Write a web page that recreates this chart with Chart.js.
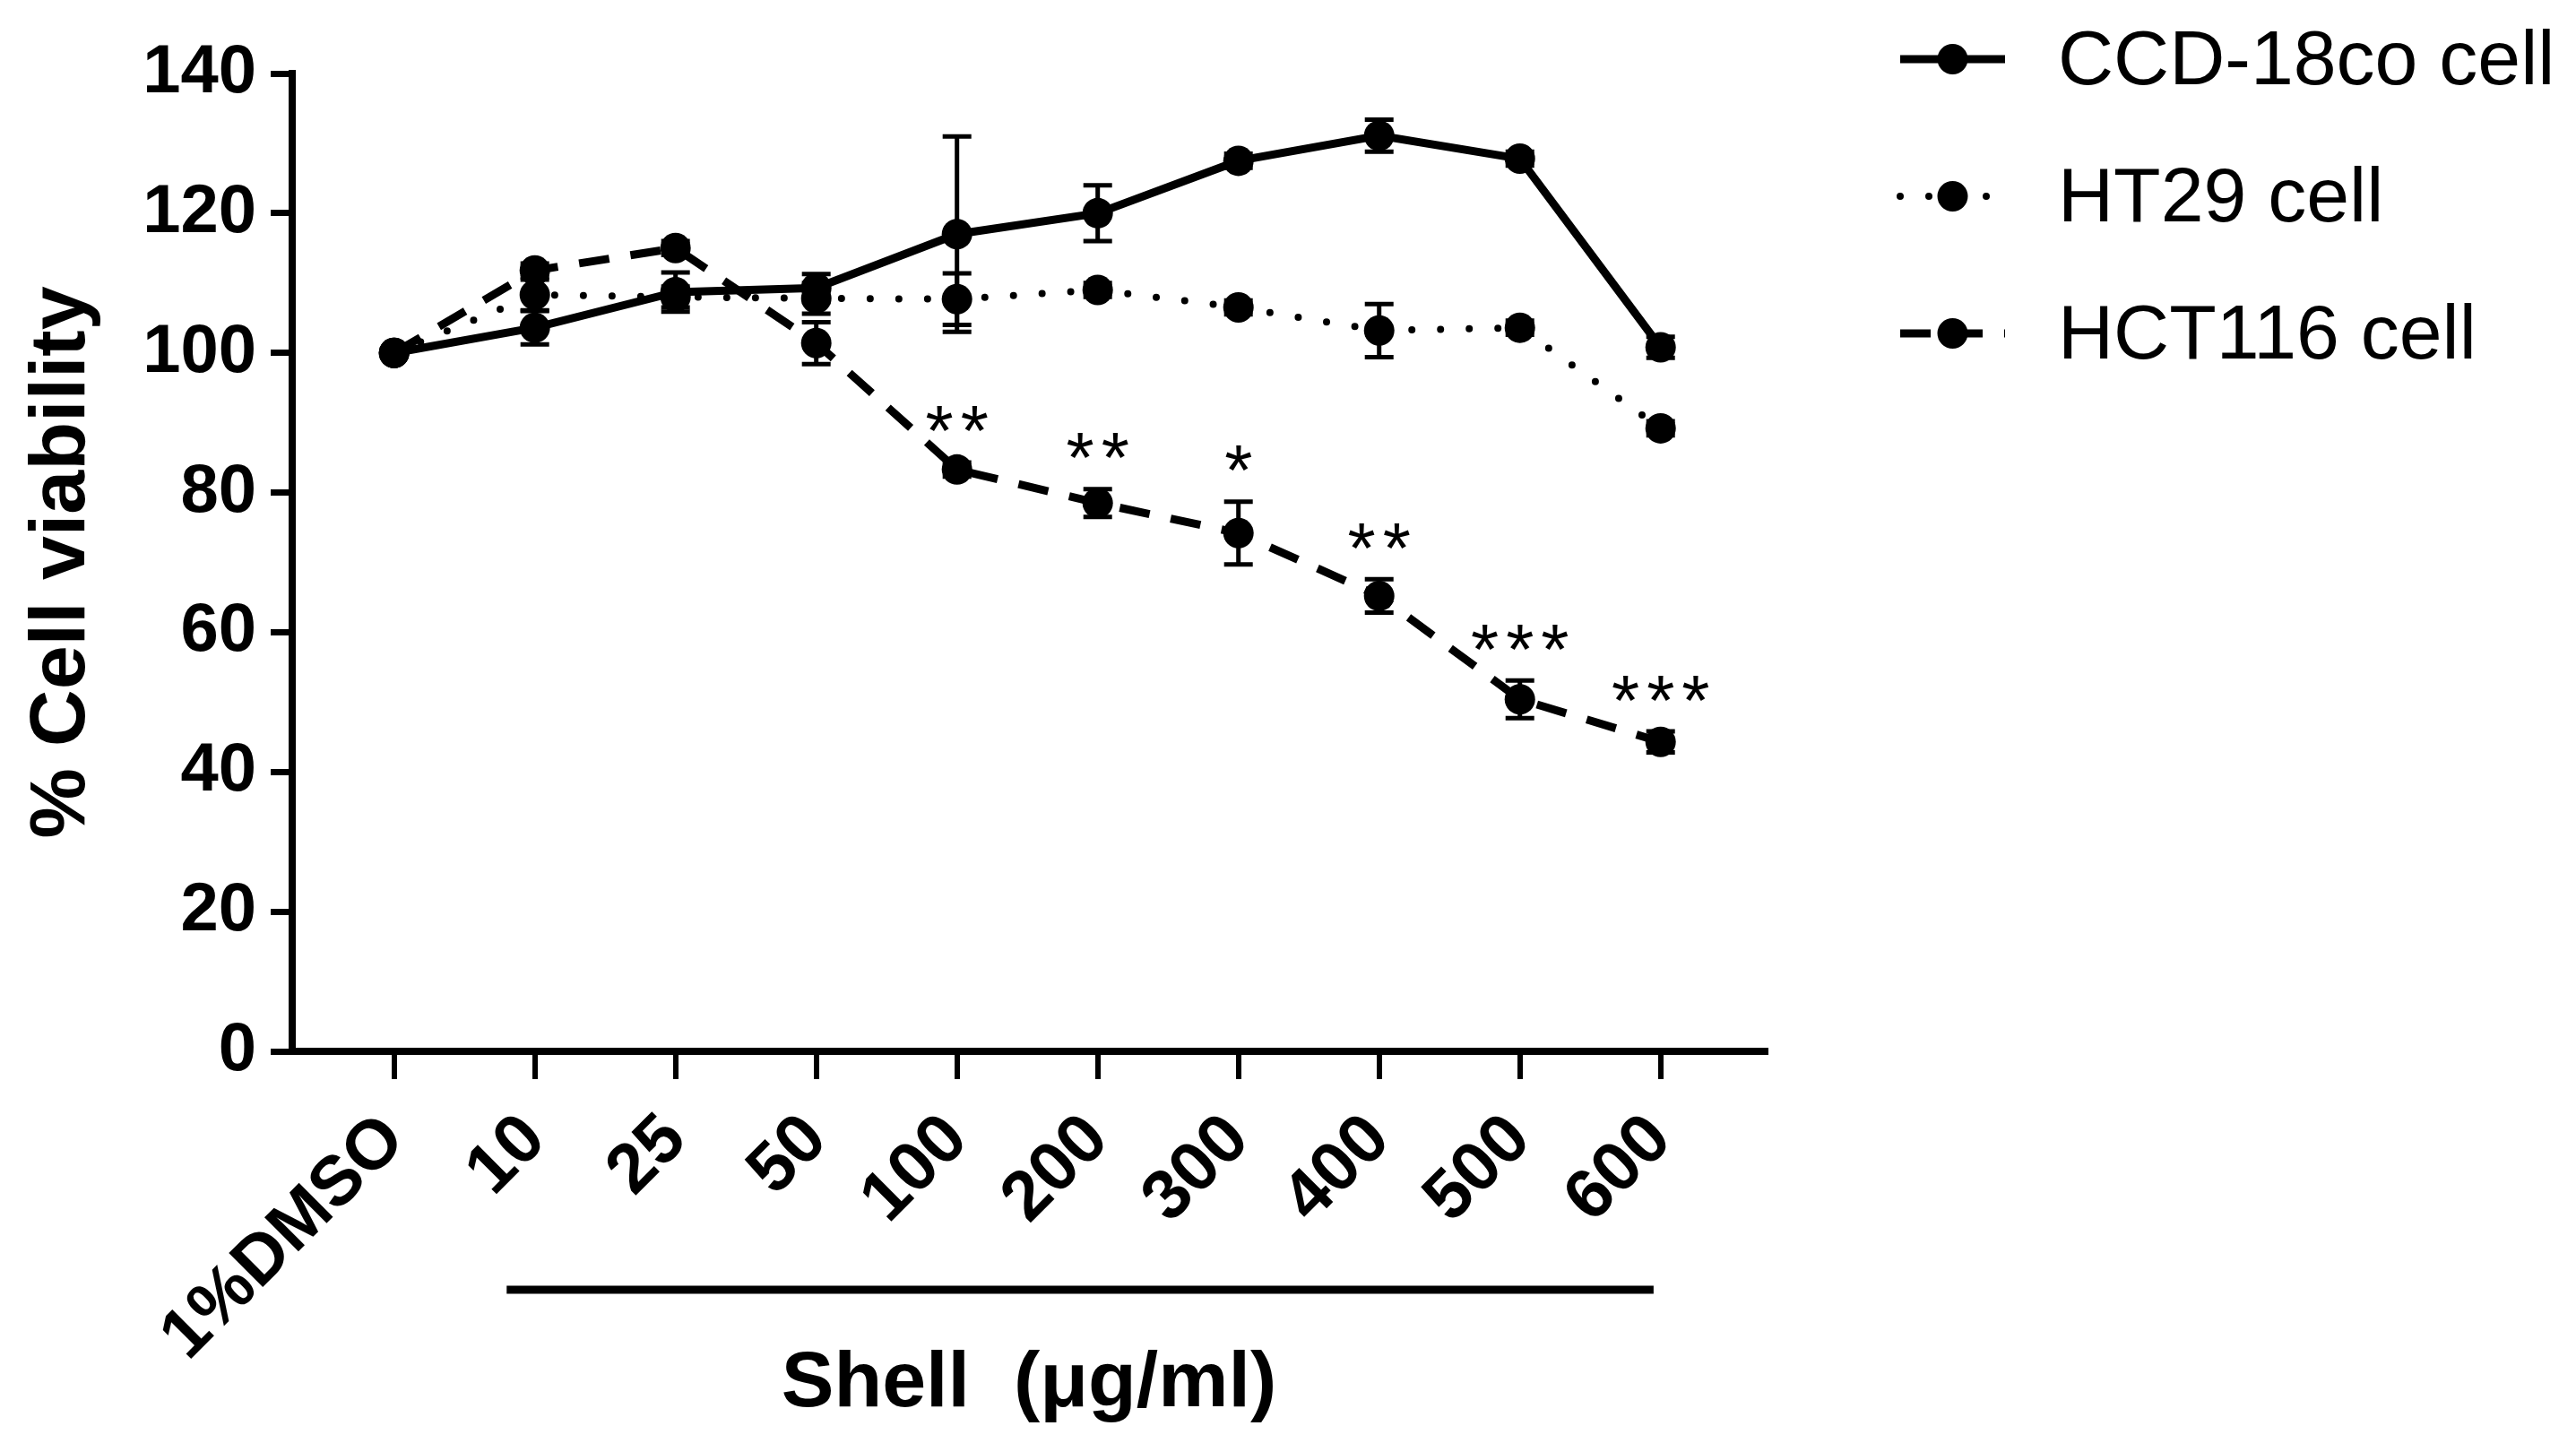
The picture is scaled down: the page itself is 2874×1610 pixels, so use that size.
<!DOCTYPE html>
<html>
<head>
<meta charset="utf-8">
<title>Cell viability</title>
<script src="https://cdn.jsdelivr.net/npm/chart.js@4.4.1/dist/chart.umd.min.js"></script>
<style>
  html, body { margin: 0; padding: 0; background: #fff; }
  canvas { display: block; }
</style>
</head>
<body>
<canvas id="viabilityChart" width="2874" height="1610"></canvas>
<script>
// doses on the x axis
const doseLabels = ['1%DMSO', '10', '25', '50', '100', '200', '300', '400', '500', '600'];

// mean % viability and error (SD) per cell line
const ccdValues  = [100, 103.6, 108.7, 109.3, 117, 120, 127.5, 131.1, 127.8, 100.8];
const ccdErrors  = [0, 2.4, 2.8, 2, 14, 4, 1, 2.3, 1, 1.5];
const ht29Values = [100, 108.3, 108, 107.8, 107.7, 109, 106.5, 103.2, 103.6, 89.2];
const ht29Errors = [0, 2.2, 1.5, 2.2, 3.7, 1, 1, 3.8, 1, 1];
const hctValues  = [100, 111.8, 115, 101.4, 83.3, 78.5, 74.2, 65.2, 50.4, 44.3];
const hctErrors  = [0, 1, 1, 3, 1, 2, 4.5, 2.4, 2.7, 1.5];

// significance marks for HCT116
const hctStars = ['', '', '', '', '**', '**', '*', '**', '***', '***'];

// y axis ticks
const yTicks = [0, 20, 40, 60, 80, 100, 120, 140];

// the "Shell" bracket covers these doses
const bracketFrom = 1;
const bracketTo = 9;

const FONT = '"Liberation Sans", Arial, Helvetica, sans-serif';

function toPoints(values) {
    return values.map((v, i) => ({ x: i, y: v }));
}

// error bars with caps
const errorBarPlugin = {
    id: 'errorBars',
    afterDatasetsDraw(chart) {
        const ctx = chart.ctx;
        const yScale = chart.scales.y;
        chart.data.datasets.forEach((ds, i) => {
            const meta = chart.getDatasetMeta(i);
            ctx.save();
            ctx.strokeStyle = '#000';
            ctx.lineWidth = 5;
            meta.data.forEach((pt, j) => {
                const err = ds.errors[j];
                if (!err) return;
                const v = ds.data[j].y;
                const top = yScale.getPixelForValue(v + err);
                const bot = yScale.getPixelForValue(v - err);
                ctx.beginPath();
                ctx.moveTo(pt.x, top);
                ctx.lineTo(pt.x, bot);
                ctx.moveTo(pt.x - 16, top);
                ctx.lineTo(pt.x + 16, top);
                ctx.moveTo(pt.x - 16, bot);
                ctx.lineTo(pt.x + 16, bot);
                ctx.stroke();
            });
            ctx.restore();
        });
    }
};

// asterisks above HCT116 points
const starPlugin = {
    id: 'stars',
    afterDatasetsDraw(chart) {
        const ctx = chart.ctx;
        const ds = chart.data.datasets[2];
        const meta = chart.getDatasetMeta(2);
        ctx.save();
        ctx.fillStyle = '#000';
        ctx.font = '80px ' + FONT;
        ctx.textAlign = 'center';
        ctx.textBaseline = 'middle';
        ctx.letterSpacing = '8px';
        hctStars.forEach((s, j) => {
            if (!s) return;
            const y = chart.scales.y.getPixelForValue(ds.data[j].y + ds.errors[j] + 5.6);
            ctx.fillText(s, meta.data[j].x + 4, y + 14);
        });
        ctx.restore();
    }
};

// horizontal bracket under the dose labels
const bracketPlugin = {
    id: 'bracket',
    afterDraw(chart) {
        const ctx = chart.ctx;
        const xs = chart.scales.x;
        const step = xs.getPixelForValue(1) - xs.getPixelForValue(0);
        const x1 = xs.getPixelForValue(bracketFrom) - 0.2 * step;
        const x2 = xs.getPixelForValue(bracketTo) - 0.05 * step;
        const y = chart.chartArea.bottom + 266;
        ctx.save();
        ctx.strokeStyle = '#000';
        ctx.lineWidth = 9;
        ctx.beginPath();
        ctx.moveTo(x1, y);
        ctx.lineTo(x2, y);
        ctx.stroke();
        ctx.restore();
    }
};

// legend with line + marker samples
const legendPlugin = {
    id: 'sideLegend',
    afterDraw(chart) {
        const ctx = chart.ctx;
        const lineX1 = 2120, lineX2 = 2237, textX = 2296;
        chart.data.datasets.forEach((ds, i) => {
            const y = 66 + i * 153;
            ctx.save();
            ctx.strokeStyle = '#000';
            ctx.lineWidth = ds.borderWidth;
            ctx.lineCap = ds.borderCapStyle || 'butt';
            ctx.setLineDash(ds.borderDash || []);
            ctx.beginPath();
            ctx.moveTo(lineX1, y);
            ctx.lineTo(lineX2, y);
            ctx.stroke();
            ctx.setLineDash([]);
            ctx.fillStyle = '#000';
            ctx.beginPath();
            ctx.arc((lineX1 + lineX2) / 2, y, ds.pointRadius, 0, Math.PI * 2);
            ctx.fill();
            ctx.font = '86px ' + FONT;
            ctx.textAlign = 'left';
            ctx.textBaseline = 'middle';
            ctx.fillText(ds.label, textX, y + 4);
            ctx.restore();
        });
    }
};

const ctx = document.getElementById('viabilityChart');
new Chart(ctx, {
    type: 'line',
    data: {
        datasets: [
            {
                label: 'CCD-18co cell',
                data: toPoints(ccdValues),
                errors: ccdErrors,
                borderColor: '#000',
                backgroundColor: '#000',
                borderWidth: 9,
                borderDash: [],
                pointRadius: 17,
                pointBorderWidth: 0,
                tension: 0
            },
            {
                label: 'HT29 cell',
                data: toPoints(ht29Values),
                errors: ht29Errors,
                borderColor: '#000',
                backgroundColor: '#000',
                borderWidth: 8,
                borderDash: [0, 32],
                borderCapStyle: 'round',
                pointRadius: 17,
                pointBorderWidth: 0,
                tension: 0
            },
            {
                label: 'HCT116 cell',
                data: toPoints(hctValues),
                errors: hctErrors,
                borderColor: '#000',
                backgroundColor: '#000',
                borderWidth: 9,
                borderDash: [34, 24],
                borderCapStyle: 'butt',
                pointRadius: 17,
                pointBorderWidth: 0,
                tension: 0
            }
        ]
    },
    options: {
        responsive: false,
        devicePixelRatio: 1,
        animation: false,
        layout: {
            padding: { top: 82, right: 904, bottom: 0, left: 0 }
        },
        plugins: {
            legend: { display: false },
            tooltip: { enabled: false }
        },
        scales: {
            x: {
                type: 'linear',
                min: -0.724,
                max: 9.747,
                afterBuildTicks(scale) {
                    scale.ticks = doseLabels.map((_, i) => ({ value: i }));
                },
                afterFit(scale) {
                    scale.height = 437;
                },
                ticks: {
                    autoSkip: false,
                    minRotation: 45,
                    maxRotation: 45,
                    padding: 22,
                    color: '#000',
                    font: { family: FONT, size: 78, weight: 'bold' },
                    callback: (value) => doseLabels[value]
                },
                grid: {
                    drawOnChartArea: false,
                    drawTicks: true,
                    tickLength: 31,
                    lineWidth: 6,
                    color: '#000'
                },
                border: { display: true, color: '#000', width: 8 },
                title: {
                    display: true,
                    text: 'Shell  (μg/ml)',
                    color: '#000',
                    font: { family: FONT, size: 88, weight: 'bold' },
                    padding: { top: 0, bottom: 12 }
                }
            },
            y: {
                min: 0,
                max: 140,
                afterBuildTicks(scale) {
                    scale.ticks = yTicks.map(v => ({ value: v }));
                },
                afterFit(scale) {
                    scale.width = 326;
                },
                ticks: {
                    padding: 16,
                    color: '#000',
                    font: { family: FONT, size: 76, weight: 'bold' }
                },
                grid: {
                    drawOnChartArea: false,
                    drawTicks: true,
                    tickLength: 24,
                    lineWidth: 7,
                    color: '#000'
                },
                border: { display: true, color: '#000', width: 8 },
                title: {
                    display: true,
                    text: '% Cell viability',
                    color: '#000',
                    font: { family: FONT, size: 88, weight: 'bold' },
                    padding: { top: 17, bottom: 0 }
                }
            }
        }
    },
    plugins: [errorBarPlugin, starPlugin, bracketPlugin, legendPlugin]
});
</script>
</body>
</html>
